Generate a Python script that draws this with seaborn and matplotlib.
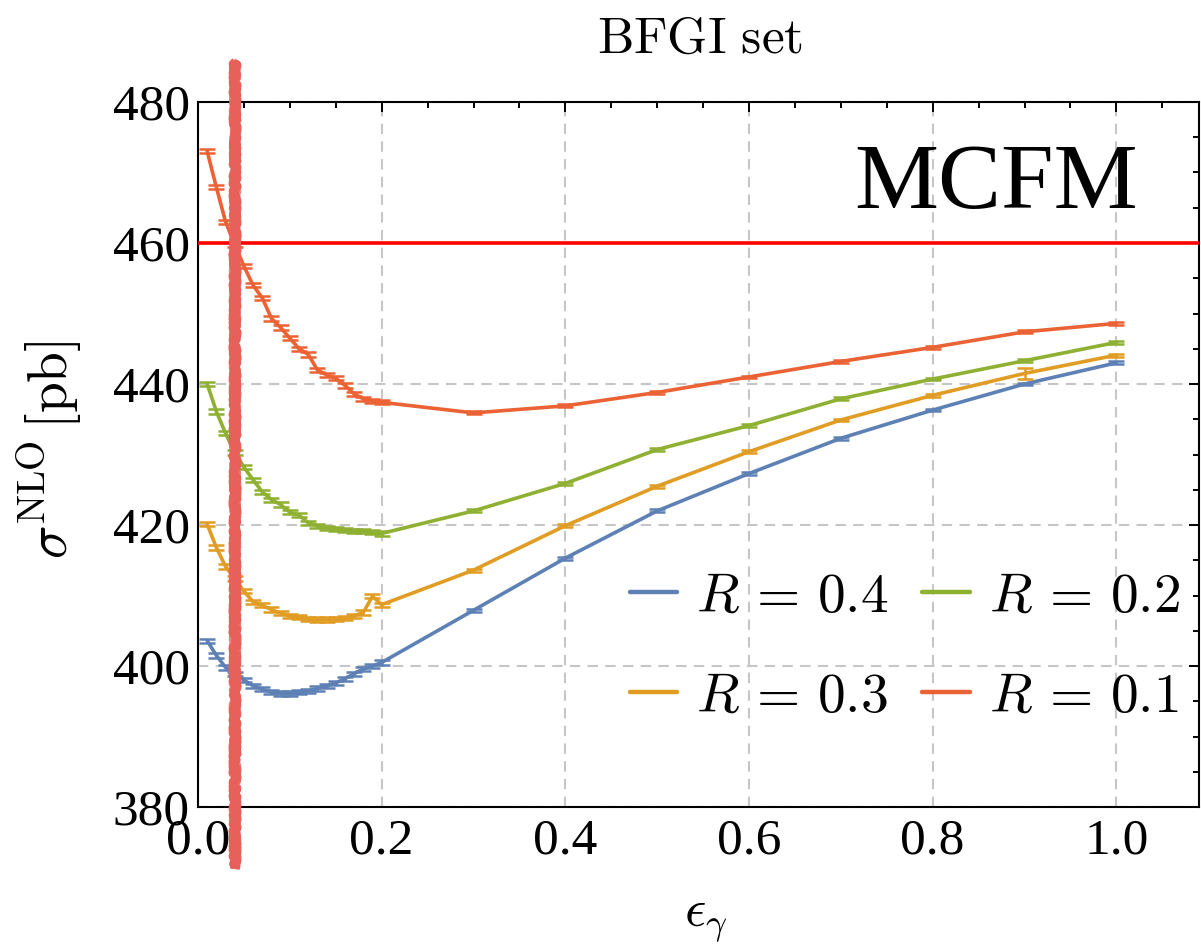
import numpy as np
import pandas as pd
import matplotlib
matplotlib.use("Agg")
import matplotlib.pyplot as plt
import seaborn as sns
from matplotlib.ticker import MultipleLocator, FormatStrFormatter
from matplotlib.lines import Line2D

# isolation parameter values (fine scan up to 0.2, then coarse steps)
eps_gamma = [0.01, 0.02, 0.03, 0.04, 0.05, 0.06, 0.07, 0.08, 0.09, 0.10,
             0.11, 0.12, 0.13, 0.14, 0.15, 0.16, 0.17, 0.18, 0.19, 0.20,
             0.3, 0.4, 0.5, 0.6, 0.7, 0.8, 0.9, 1.0]

# NLO cross sections [pb] for each cone radius
sigma_R04 = [403.6, 401.5, 399.8, 398.9, 398.0, 397.2, 396.7, 396.3, 396.1, 396.1,
             396.3, 396.5, 396.8, 397.2, 397.6, 398.2, 398.9, 399.6, 400.0, 400.5,
             407.9, 415.3, 422.0, 427.3, 432.3, 436.3, 440.0, 443.0]
sigma_R03 = [420.1, 416.8, 414.1, 412.4, 410.6, 409.1, 408.6, 408.0, 407.5, 407.1,
             406.9, 406.7, 406.6, 406.6, 406.7, 406.8, 407.1, 407.6, 409.9, 408.7,
             413.6, 419.9, 425.5, 430.4, 434.9, 438.4, 441.5, 444.1]
sigma_R02 = [440.0, 436.1, 433.0, 430.3, 428.2, 426.4, 424.7, 423.6, 422.9, 421.8,
             421.4, 420.3, 419.9, 419.6, 419.4, 419.3, 419.2, 419.1, 419.0, 418.8,
             422.0, 425.9, 430.7, 434.1, 437.9, 440.7, 443.3, 445.9]
sigma_R01 = [473.0, 467.9, 463.0, 459.8, 456.7, 454.0, 452.2, 449.3, 448.0, 446.5,
             445.0, 444.2, 442.0, 441.3, 440.8, 439.8, 438.6, 437.9, 437.6, 437.4,
             435.9, 436.9, 438.8, 441.0, 443.2, 445.2, 447.4, 448.6]

# Monte Carlo uncertainties [pb]
err_R04 = [0.3, 0.3, 0.3, 0.3, 0.3, 0.3, 0.3, 0.3, 0.3, 0.3,
           0.3, 0.3, 0.3, 0.3, 0.3, 0.3, 0.3, 0.3, 0.3, 0.3,
           0.2, 0.2, 0.2, 0.2, 0.2, 0.2, 0.2, 0.2]
err_R03 = [0.3, 0.3, 0.3, 0.3, 0.3, 0.3, 0.3, 0.3, 0.3, 0.3,
           0.3, 0.3, 0.3, 0.3, 0.3, 0.3, 0.3, 0.3, 0.3, 0.3,
           0.2, 0.2, 0.2, 0.2, 0.2, 0.2, 0.8, 0.2]
err_R02 = [0.3, 0.3, 0.3, 0.3, 0.3, 0.3, 0.3, 0.3, 0.3, 0.3,
           0.3, 0.3, 0.3, 0.3, 0.3, 0.3, 0.3, 0.3, 0.3, 0.3,
           0.2, 0.2, 0.2, 0.2, 0.2, 0.2, 0.2, 0.2]
err_R01 = [0.3, 0.3, 0.3, 0.3, 0.3, 0.3, 0.3, 0.3, 0.3, 0.3,
           0.3, 0.3, 0.3, 0.3, 0.3, 0.3, 0.3, 0.3, 0.3, 0.3,
           0.2, 0.2, 0.2, 0.2, 0.2, 0.2, 0.2, 0.2]

radius_labels = ["R = 0.4", "R = 0.3", "R = 0.2", "R = 0.1"]
legend_labels = [r"$R\,=\,0.4$", r"$R\,=\,0.3$", r"$R\,=\,0.2$", r"$R\,=\,0.1$"]
colors = ["#5E81B5", "#E19C24", "#8FB032", "#EB6235"]

reference_sigma = 460.0
eps_cut = 0.04

sns.set_theme(style="white")
plt.rcParams["font.family"] = ["Liberation Serif", "DejaVu Serif"]
plt.rcParams["mathtext.fontset"] = "cm"
plt.rcParams["text.color"] = "black"

rows = []
for lab, ys in zip(radius_labels, [sigma_R04, sigma_R03, sigma_R02, sigma_R01]):
    for x, y in zip(eps_gamma, ys):
        rows.append({"eps": x, "sigma": y, "R": lab})
df = pd.DataFrame(rows)

fig = plt.figure(figsize=(12.01, 9.47), dpi=100)
ax = fig.add_axes([198 / 1201, 1 - 807 / 947, 1001 / 1201, 705 / 947])

sns.lineplot(data=df, x="eps", y="sigma", hue="R", hue_order=radius_labels,
             palette=colors, estimator=None, sort=True, lw=2.6, legend=False,
             ax=ax, zorder=3, solid_joinstyle="round")

for ys, es, c in zip([sigma_R04, sigma_R03, sigma_R02, sigma_R01],
                     [err_R04, err_R03, err_R02, err_R01], colors):
    ax.errorbar(eps_gamma, ys, yerr=es, fmt="none", ecolor=c, elinewidth=1.8,
                capsize=5.5, capthick=1.8, zorder=3)

ax.axhline(reference_sigma, color="#FF0000", lw=2.6, zorder=4)

# hand-drawn style marker for the chosen isolation cut
for lw, alpha, sk in [(7.0, 1.0, (1.6, 3, 30)), (6.0, 0.8, (2.2, 2, 40)),
                      (4.0, 0.9, (1.2, 2, 60))]:
    band, = ax.plot([eps_cut, eps_cut], [371.2, 485.7], color="#E8605A", lw=lw,
                    alpha=alpha, clip_on=False, zorder=6, solid_capstyle="butt")
    band.set_sketch_params(*sk)

ax.set_xlim(0, 1.09)
ax.set_ylim(380, 480)
ax.xaxis.set_major_locator(MultipleLocator(0.2))
ax.xaxis.set_minor_locator(MultipleLocator(0.05))
ax.yaxis.set_major_locator(MultipleLocator(20))
ax.yaxis.set_minor_locator(MultipleLocator(5))
ax.xaxis.set_major_formatter(FormatStrFormatter("%.1f"))
ax.yaxis.set_major_formatter(FormatStrFormatter("%d"))

ax.grid(True, which="major", color="#C6C6C6", linestyle=(0, (5, 3.5)), lw=1.5, zorder=0)
ax.set_axisbelow(True)

for sp in ax.spines.values():
    sp.set_color("black")
    sp.set_linewidth(1.5)
ax.tick_params(which="both", direction="in", top=True, right=True,
               color="black", width=1.4, labelsize=37, labelcolor="black")
ax.tick_params(which="major", length=7, pad=6)
ax.tick_params(which="minor", length=4.5)
ax.tick_params(axis="x", which="major", pad=8)
ax.set_xlabel("")
ax.set_ylabel("")

fig.text(700 / 1201, 1 - 53 / 947, r"$\mathrm{BFGI\ set}$", ha="center",
         va="baseline", fontsize=37, color="black")
fig.text(706 / 1201, 1 - 926 / 947, r"$\epsilon_\gamma$", ha="center",
         va="baseline", fontsize=38, color="black")
fig.text(50 / 1201, 1 - 450 / 947, r"$\sigma^{\mathrm{NLO}}\,[\mathrm{pb}]$",
         ha="center", va="center", rotation=90, fontsize=40, color="black")

ax.text(0.797, 0.8496, "MCFM", transform=ax.transAxes, ha="center",
        va="baseline", fontsize=68, color="black", family="Liberation Serif")

handles = [Line2D([], [], color=c, lw=3.2) for c in colors]
leg = ax.legend(handles, legend_labels, loc="center", bbox_to_anchor=(0.706, 0.226),
                ncol=2, frameon=False, fontsize=40, handlelength=0.86,
                handletextpad=0.34, columnspacing=0.6, labelspacing=0.86)
for t in leg.get_texts():
    t.set_color("black")

fig.savefig("out.png", dpi=100)
